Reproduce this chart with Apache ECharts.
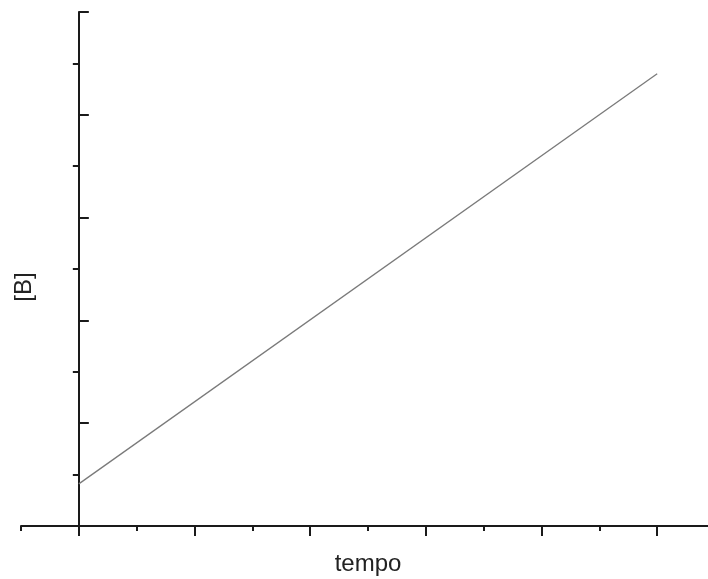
<!DOCTYPE html>
<html>
<head>
<meta charset="utf-8">
<script src="https://cdn.jsdelivr.net/npm/echarts@6/dist/echarts.min.js"></script>
<style>
html,body{margin:0;padding:0;background:#fff;}
#chart{width:708px;height:579px;}
</style>
</head>
<body>
<div id="chart"></div>
<script>
// data
var times = [0, 5];
var concB = [0.41, 4.40];
var majorXCats = ['0', '1', '2', '3', '4', '5'];
var minorYCats = ['0.5', '1.5', '2.5', '3.5', '4.5'];
var xName = 'tempo';
var yName = '[B]';

var chart = echarts.init(document.getElementById('chart'));
var axisColor = '#1a1a1a';
var font = 'Liberation Sans, Arial, sans-serif';

var lineData = times.map(function (t, i) { return [t, concB[i]]; });

chart.setOption({
  animation: false,
  backgroundColor: '#fff',
  grid: { left: 21, right: -7, top: 12, bottom: 53, containLabel: false, outerBoundsMode: 'none' },
  xAxis: [
    {
      type: 'value', min: -0.5, max: 5.5, position: 'bottom',
      axisLine: { show: true, onZero: false, lineStyle: { color: axisColor, width: 2 } },
      axisTick: { show: false }, axisLabel: { show: false }, splitLine: { show: false },
      name: xName, nameLocation: 'middle', nameGap: 26,
      nameTextStyle: { fontSize: 24, color: '#222', fontFamily: font }
    },
    {
      type: 'category', data: majorXCats, boundaryGap: true, position: 'bottom',
      axisLine: { show: false, onZero: false },
      axisTick: { show: true, alignWithLabel: true, interval: 0, length: 10, lineStyle: { color: axisColor, width: 2 } },
      axisLabel: { show: false, interval: 0 }, splitLine: { show: false }
    },
    {
      type: 'category', data: majorXCats, boundaryGap: true, position: 'bottom',
      axisLine: { show: false, onZero: false },
      axisTick: { show: true, alignWithLabel: false, interval: 0, length: 5, lineStyle: { color: axisColor, width: 2 } },
      axisLabel: { show: false, interval: 0 }, splitLine: { show: false }
    }
  ],
  yAxis: [
    {
      type: 'value', min: 0, max: 5, interval: 1, position: 'left',
      axisLine: { show: true, onZero: true, onZeroAxisIndex: 0, lineStyle: { color: axisColor, width: 2 } },
      axisTick: { show: true, inside: true, length: 10, lineStyle: { color: axisColor, width: 2 } },
      axisLabel: { show: false }, splitLine: { show: false }
    },
    {
      type: 'category', data: minorYCats, boundaryGap: true, position: 'left',
      axisLine: { show: false, onZero: true, onZeroAxisIndex: 0 },
      axisTick: { show: true, inside: false, alignWithLabel: true, interval: 0, length: 6, lineStyle: { color: axisColor, width: 2 } },
      axisLabel: { show: false, interval: 0 }, splitLine: { show: false }
    }
  ],
  graphic: [
    {
      type: 'text', x: 24.5, y: 287, rotation: Math.PI / 2,
      style: { text: yName, fontSize: 24, fill: '#222', fontFamily: font, align: 'center', verticalAlign: 'middle' }
    }
  ],
  series: [
    {
      type: 'line', xAxisIndex: 0, yAxisIndex: 0, data: lineData,
      showSymbol: false, symbol: 'none',
      lineStyle: { color: '#7a7a7a', width: 1.3 }
    }
  ]
});
</script>
</body>
</html>
